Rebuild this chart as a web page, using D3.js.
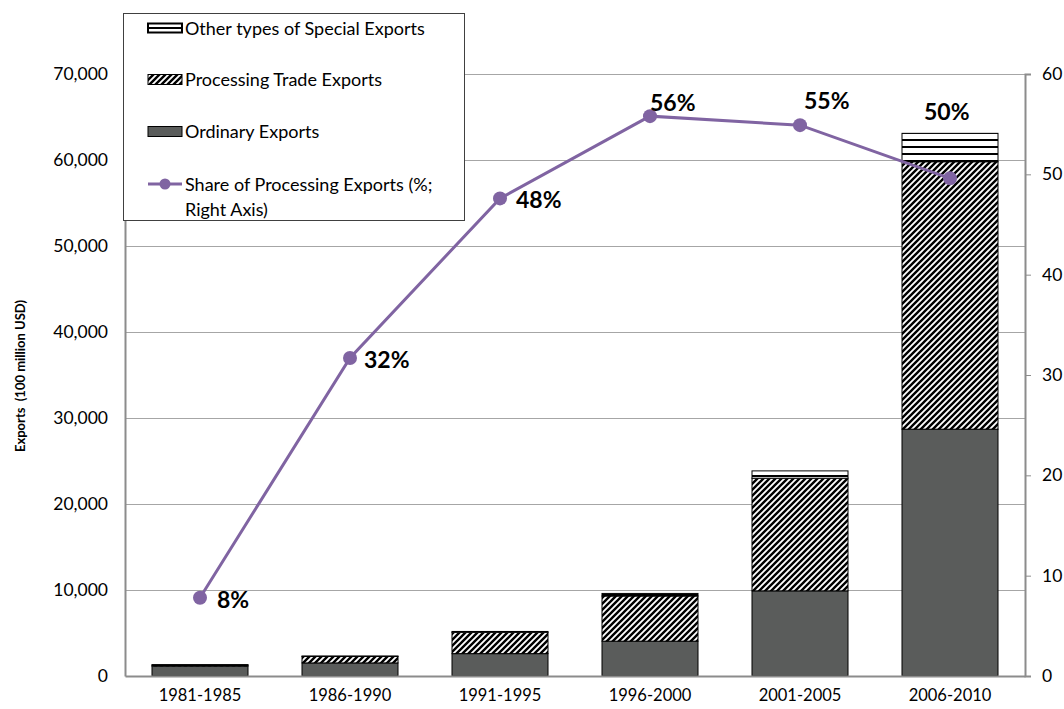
<!DOCTYPE html>
<html>
<head>
<meta charset="utf-8">
<script src="https://cdn.jsdelivr.net/npm/d3@7"></script>
<style>
  html, body { margin: 0; padding: 0; background: #fff; }
  svg { display: block; font-family: Lato, "Open Sans", sans-serif; }
</style>
</head>
<body>
<svg id="chart" width="1064" height="709"></svg>
<script>
// Export periods (100 million USD)
const categories = ["1981-1985", "1986-1990", "1991-1995", "1996-2000", "2001-2005", "2006-2010"];
const ordinaryExports = [1150, 1520, 2600, 4050, 9900, 28700];
const processingExports = [110, 750, 2480, 5250, 13100, 31100];
const otherSpecialExports = [60, 60, 100, 300, 850, 3300];
// Share of processing exports in total (%)
const processingShare = [7.8, 31.7, 47.6, 55.8, 54.9, 49.6];

const leftTicks = [0, 10000, 20000, 30000, 40000, 50000, 60000, 70000];
const rightTicks = [0, 10, 20, 30, 40, 50, 60];

const seriesNames = ["Other types of Special Exports", "Processing Trade Exports", "Ordinary Exports",
                     "Share of Processing Exports (%;", "Right Axis)"];

// label placement relative to each point: [dx to text start, dy to text middle]
const labelOffsets = [[17, 1], [14, 1], [16, 1], [0, -14], [4, -25], [-26, -67]];

const svg = d3.select("#chart");
const plot = { left: 125, right: 1025, top: 74, bottom: 676 };
const purple = "#8064a2";
const grey = "#5a5c5b";

const x = d3.scaleBand().domain(categories)
  .range([plot.left, plot.right]).paddingInner(0.36).paddingOuter(0.18);
const yL = d3.scaleLinear().domain([0, 70000]).range([plot.bottom, plot.top]);
const yR = d3.scaleLinear().domain([0, 60]).range([plot.bottom, plot.top]);

// fill patterns
const defs = svg.append("defs");
const hatch = defs.append("pattern").attr("id", "hatch")
  .attr("patternUnits", "userSpaceOnUse").attr("width", 6).attr("height", 6);
hatch.append("rect").attr("width", 6).attr("height", 6).attr("fill", "#fff");
hatch.append("path").attr("d", "M-1,1 L1,-1 M0,6 L6,0 M5,7 L7,5")
  .attr("stroke", "#000").attr("stroke-width", 2.4);

const hlines = defs.append("pattern").attr("id", "hlines")
  .attr("patternUnits", "userSpaceOnUse").attr("width", 8).attr("height", 7).attr("y", 1);
hlines.append("rect").attr("width", 8).attr("height", 7).attr("fill", "#fff");
hlines.append("rect").attr("y", 5).attr("width", 8).attr("height", 2).attr("fill", "#000");

// gridlines
svg.append("g").selectAll("line").data(leftTicks.filter(d => d > 0)).join("line")
  .attr("x1", plot.left).attr("x2", plot.right)
  .attr("y1", d => Math.round(yL(d)) + 0.5).attr("y2", d => Math.round(yL(d)) + 0.5)
  .attr("stroke", "#a6a6a6").attr("stroke-width", 1);

// left axis
const leftAxis = svg.append("g").attr("transform", `translate(${plot.left},0)`)
  .call(d3.axisLeft(yL).tickValues(leftTicks).tickSize(0).tickPadding(17)
    .tickFormat(d3.format(",")));
leftAxis.select(".domain").attr("stroke", "#8c8c8c").attr("stroke-width", 2);
leftAxis.selectAll("text").attr("font-size", 17.5).attr("fill", "#000")
  .attr("font-family", "Lato, sans-serif");

// right axis
const rightAxis = svg.append("g").attr("transform", `translate(${plot.right},0)`)
  .call(d3.axisRight(yR).tickValues(rightTicks).tickSize(6).tickPadding(11));
rightAxis.select(".domain").attr("stroke", "#8c8c8c").attr("stroke-width", 2);
rightAxis.selectAll(".tick line").attr("stroke", "#8c8c8c");
rightAxis.selectAll("text").attr("font-size", 17.5).attr("fill", "#000")
  .attr("font-family", "Lato, sans-serif");

// stacked bars
const rows = categories.map((c, i) => ({
  cat: c, ordinary: ordinaryExports[i], processing: processingExports[i], other: otherSpecialExports[i]
}));
const stack = d3.stack().keys(["ordinary", "processing", "other"])(rows);
const fills = { ordinary: grey, processing: "url(#hatch)", other: "url(#hlines)" };

svg.append("g").selectAll("g").data(stack).join("g")
  .attr("fill", d => fills[d.key])
  .selectAll("rect").data(d => d).join("rect")
  .attr("x", d => x(d.data.cat))
  .attr("width", x.bandwidth())
  .attr("y", d => yL(d[1]))
  .attr("height", d => yL(d[0]) - yL(d[1]))
  .attr("stroke", "#000").attr("stroke-width", 1);

// bottom axis
const bottomAxis = svg.append("g").attr("transform", `translate(0,${plot.bottom})`)
  .call(d3.axisBottom(x).tickSize(0).tickPadding(13));
bottomAxis.select(".domain").attr("stroke", "#8c8c8c").attr("stroke-width", 2);
bottomAxis.selectAll("text").attr("font-size", 16.5).attr("fill", "#000")
  .attr("font-family", "Lato, sans-serif");

// share line
const pts = categories.map((c, i) => [x(c) + x.bandwidth() / 2, yR(processingShare[i])]);
svg.append("path").datum(pts)
  .attr("d", d3.line())
  .attr("fill", "none").attr("stroke", purple).attr("stroke-width", 3);
svg.append("g").selectAll("circle").data(pts).join("circle")
  .attr("cx", d => d[0]).attr("cy", d => d[1]).attr("r", 7).attr("fill", purple);

// data labels
svg.append("g").selectAll("text").data(pts).join("text")
  .attr("x", (d, i) => d[0] + labelOffsets[i][0])
  .attr("y", (d, i) => d[1] + labelOffsets[i][1])
  .attr("dominant-baseline", "central")
  .attr("font-size", 23).attr("font-weight", "bold").attr("fill", "#000")
  .text((d, i) => d3.format(".0f")(processingShare[i]) + "%");

// y axis title
svg.append("text")
  .attr("transform", `translate(20,376) rotate(-90)`)
  .attr("text-anchor", "middle").attr("dominant-baseline", "central")
  .attr("font-size", 13).attr("font-weight", "bold").attr("fill", "#000")
  .attr("xml:space", "preserve")
  .text("Exports  (100 million USD)");

// legend
const legend = svg.append("g");
legend.append("rect").attr("x", 123.5).attr("y", 13.5).attr("width", 341).attr("height", 207)
  .attr("fill", "#fff").attr("stroke", "#404040").attr("stroke-width", 1);
const swX = 148, swW = 34, textX = 185;
legend.append("rect").attr("x", swX).attr("y", 23.5).attr("width", swW).attr("height", 9)
  .attr("fill", "#fff").attr("stroke", "#000").attr("stroke-width", 2);
legend.append("line").attr("x1", swX).attr("x2", swX + swW).attr("y1", 28).attr("y2", 28)
  .attr("stroke", "#000").attr("stroke-width", 2);
legend.append("rect").attr("x", swX).attr("y", 74.5).attr("width", swW).attr("height", 10)
  .attr("fill", "url(#hatch)").attr("stroke", "#000").attr("stroke-width", 1);
legend.append("rect").attr("x", swX).attr("y", 126.5).attr("width", swW).attr("height", 10)
  .attr("fill", grey).attr("stroke", "#000").attr("stroke-width", 1);
legend.append("line").attr("x1", swX).attr("x2", swX + swW).attr("y1", 184).attr("y2", 184)
  .attr("stroke", purple).attr("stroke-width", 3);
legend.append("circle").attr("cx", swX + swW / 2).attr("cy", 184).attr("r", 5.5).attr("fill", purple);

const legendY = [27.5, 79, 131, 183.5, 208.5];
legend.selectAll("text.item").data(seriesNames).join("text").attr("class", "item")
  .attr("x", textX).attr("y", (d, i) => legendY[i])
  .attr("dominant-baseline", "central")
  .attr("font-size", 18).attr("fill", "#000")
  .text(d => d);
</script>
</body>
</html>
